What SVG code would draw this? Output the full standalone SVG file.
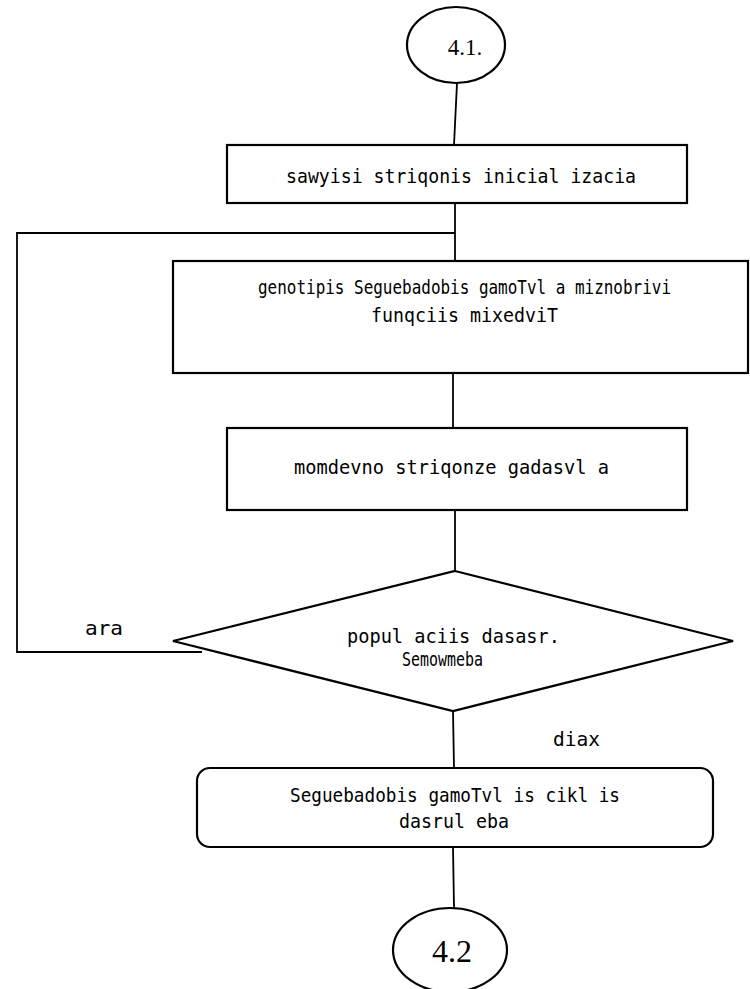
<svg xmlns="http://www.w3.org/2000/svg" width="750" height="989" viewBox="0 0 750 989">
  <style>
    .shape { fill: #ffffff; stroke: #000000; stroke-width: 2.2; }
    .wire { fill: none; stroke: #000000; stroke-width: 1.8; }
    .lbl { font-family: "DejaVu Sans Mono", "Liberation Mono", monospace; font-size: 19px; fill: #000000; }
    .num { font-family: "Liberation Serif", "Times New Roman", serif; fill: #000000; text-anchor: middle; }
  </style>
  <rect x="0" y="0" width="750" height="989" fill="#ffffff"/>

  <!-- connectors -->
  <g id="connectors">
    <line class="wire" x1="457" y1="83" x2="454" y2="145"/>
    <line class="wire" x1="455" y1="203" x2="455" y2="261"/>
    <polyline class="wire" points="455,233 17,233 17,652 202,652"/>
    <line class="wire" x1="453" y1="373" x2="453" y2="428"/>
    <line class="wire" x1="455" y1="510" x2="455" y2="571"/>
    <line class="wire" x1="453" y1="711" x2="454" y2="768"/>
    <line class="wire" x1="453" y1="847" x2="454" y2="908"/>
  </g>

  <!-- start connector 4.1. -->
  <g id="start">
    <ellipse class="shape" cx="456" cy="45" rx="49" ry="38"/>
    <text class="num" x="465" y="55" font-size="23">4.1.</text>
  </g>

  <!-- initialisation -->
  <g id="init">
    <rect class="shape" x="227" y="145" width="460" height="58"/>
    <text class="lbl" x="286" y="183" textLength="350" lengthAdjust="spacingAndGlyphs">sawyisi striqonis inicial izacia</text>
  </g>

  <!-- fitness evaluation -->
  <g id="fitness">
    <rect class="shape" x="173" y="261" width="575" height="112"/>
    <text class="lbl" x="258" y="294" textLength="413" lengthAdjust="spacingAndGlyphs">genotipis Seguebadobis gamoTvl a miznobrivi</text>
    <text class="lbl" x="371" y="322" textLength="187" lengthAdjust="spacingAndGlyphs">funqciis mixedviT</text>
  </g>

  <!-- next string -->
  <g id="next">
    <rect class="shape" x="227" y="428" width="460" height="82"/>
    <text class="lbl" x="294" y="474" textLength="315" lengthAdjust="spacingAndGlyphs">momdevno striqonze gadasvl a</text>
  </g>

  <!-- decision -->
  <g id="decision">
    <polygon class="shape" points="455,571 733,641 453,711 173,641"/>
    <text class="lbl" x="347" y="643" textLength="213" lengthAdjust="spacingAndGlyphs">popul aciis dasasr.</text>
    <text class="lbl" x="402" y="666" font-size="17" textLength="81" lengthAdjust="spacingAndGlyphs">Semowmeba</text>
  </g>

  <text class="lbl" id="lbl-yes-no" x="85" y="635" font-size="21" textLength="38" lengthAdjust="spacingAndGlyphs">ara</text>
  <text class="lbl" id="lbl-no-yes" x="553" y="746" font-size="21" textLength="47" lengthAdjust="spacingAndGlyphs">diax</text>

  <!-- end of evaluation cycle -->
  <g id="finish">
    <rect class="shape" x="197" y="768" width="516" height="79" rx="13" ry="13"/>
    <text class="lbl" x="290" y="802" textLength="330" lengthAdjust="spacingAndGlyphs">Seguebadobis gamoTvl is cikl is</text>
    <text class="lbl" x="399" y="828" textLength="110" lengthAdjust="spacingAndGlyphs">dasrul eba</text>
  </g>

  <!-- end connector 4.2 -->
  <g id="end">
    <ellipse class="shape" cx="450" cy="950" rx="57" ry="42"/>
    <text class="num" x="452" y="962" font-size="32">4.2</text>
  </g>
</svg>
